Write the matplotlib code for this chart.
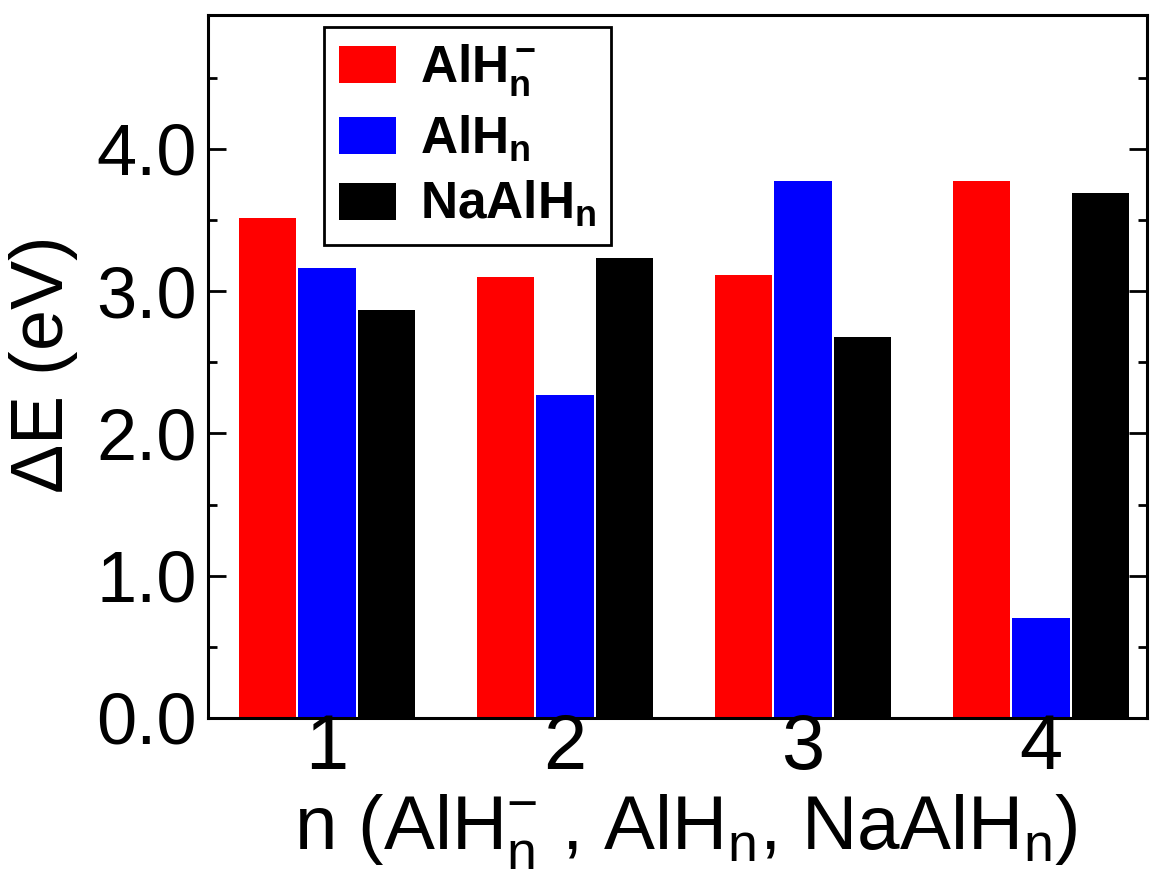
import matplotlib
matplotlib.use("Agg")
import matplotlib.pyplot as plt
import numpy as np
from matplotlib.ticker import MultipleLocator, FormatStrFormatter

# valeurs
n_values = [1, 2, 3, 4]
e_anion = [3.51, 3.10, 3.11, 3.77]    # AlH_n^-
e_neutral = [3.16, 2.27, 3.77, 0.70]  # AlH_n
e_naalh = [2.87, 3.23, 2.68, 3.69]    # NaAlH_n

plt.rcParams['font.family'] = ['Liberation Sans', 'DejaVu Sans']
plt.rcParams['mathtext.fontset'] = 'custom'
plt.rcParams['mathtext.rm'] = 'Liberation Sans'
plt.rcParams['mathtext.it'] = 'Liberation Sans'
plt.rcParams['mathtext.bf'] = 'Liberation Sans:bold'

fig = plt.figure(figsize=(11.51, 8.76), dpi=100)
ax = fig.add_axes([0.1807, 0.1804, 0.8158, 0.8025])

x = np.array(n_values)
w = 0.24
ax.bar(x - 0.25, e_anion, w, color='#ff0000', label=r'$\mathbf{AlH_n^-}$')
ax.bar(x, e_neutral, w, color='#0000ff', label=r'$\mathbf{AlH_n}$')
ax.bar(x + 0.25, e_naalh, w, color='#000000', label=r'$\mathbf{NaAlH_n}$')

ax.set_xlim(0.5, 4.445)
ax.set_ylim(0, 4.94)
ax.set_xticks(n_values)
ax.yaxis.set_major_locator(MultipleLocator(1.0))
ax.yaxis.set_minor_locator(MultipleLocator(0.5))
ax.yaxis.set_major_formatter(FormatStrFormatter('%.1f'))

ax.tick_params(axis='y', which='both', direction='in', right=True, width=2,
               labelsize=52, pad=8)
ax.tick_params(axis='y', which='major', length=13)
ax.tick_params(axis='y', which='minor', length=6.5)
ax.tick_params(axis='x', length=0, labelsize=56, pad=-4)
for s in ax.spines.values():
    s.set_linewidth(2.2)

ax.set_ylabel(r'$\Delta$E (eV)', fontsize=53, labelpad=12)
ax.set_xlabel(r'n (AlH$_\mathrm{n}^\mathrm{-}$ , AlH$_\mathrm{n}$, NaAlH$_\mathrm{n}$)',
              fontsize=55)
ax.xaxis.set_label_coords(0.509, -0.106)

leg = ax.legend(loc='upper left', bbox_to_anchor=(0.1235, 0.983), borderaxespad=0,
                fontsize=37, handlelength=1.11, handleheight=0.73, labelspacing=0.3,
                handletextpad=0.45, borderpad=0.3, frameon=True, fancybox=False,
                framealpha=1)
leg.get_frame().set_edgecolor('black')
leg.get_frame().set_linewidth(2)

fig.savefig('out.png', dpi=100)
